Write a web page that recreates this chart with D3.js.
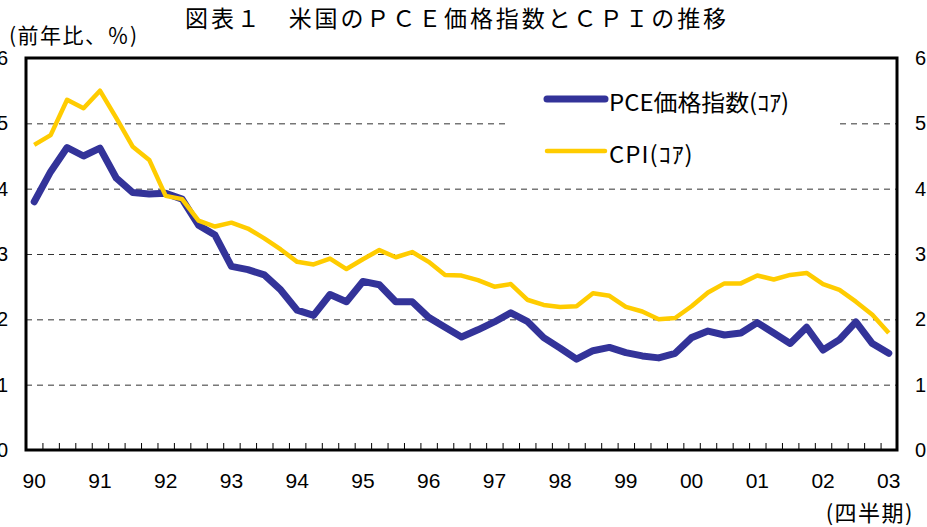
<!DOCTYPE html>
<html>
<head>
<meta charset="utf-8">
<script src="https://cdn.jsdelivr.net/npm/d3@7"></script>
<style>
  body { margin: 0; background: #fff; }
  svg { display: block; }
</style>
</head>
<body>
<svg id="chart" width="927" height="527"></svg>
<script>
// quarterly, 1990Q1 - 2003Q1
const years = ['90', '91', '92', '93', '94', '95', '96', '97', '98', '99', '00', '01', '02', '03']
const quarters = years.flatMap(y => ['Q1', 'Q2', 'Q3', 'Q4'].map(q => y + q)).slice(0, 53)

// 前年比 %
const pceCore = [
  3.80, 4.26, 4.63, 4.50, 4.62, 4.16, 3.94, 3.92,
  3.93, 3.84, 3.44, 3.29, 2.81, 2.76, 2.68, 2.45,
  2.14, 2.06, 2.38, 2.27, 2.58, 2.53, 2.27, 2.27,
  2.03, 1.88, 1.73, 1.84, 1.96, 2.10, 1.97, 1.72,
  1.56, 1.39, 1.52, 1.57, 1.49, 1.44, 1.41, 1.48,
  1.72, 1.82, 1.76, 1.79, 1.95, 1.79, 1.63, 1.88,
  1.53, 1.69, 1.96, 1.63, 1.48
]
const cpiCore = [
  4.67, 4.82, 5.36, 5.23, 5.50, 5.08, 4.64, 4.44,
  3.89, 3.84, 3.51, 3.42, 3.48, 3.39, 3.24, 3.07,
  2.88, 2.84, 2.93, 2.77, 2.92, 3.06, 2.95, 3.03,
  2.88, 2.68, 2.67, 2.60, 2.50, 2.54, 2.30, 2.22,
  2.19, 2.20, 2.40, 2.36, 2.19, 2.12, 2.00, 2.02,
  2.20, 2.41, 2.55, 2.55, 2.67, 2.61, 2.68, 2.71,
  2.54, 2.45, 2.27, 2.07, 1.79
]
const yTicks = [0, 1, 2, 3, 4, 5, 6]
const gridTicks = [1, 2, 3, 4, 5]
const seriesNames = ['PCE価格指数(ｺｱ)', 'CPI(ｺｱ)']
const seriesColors = ['#333399', '#ffcc00']

const title = '図表１　米国のＰＣＥ価格指数とＣＰＩの推移'
const unitLabel = '(前年比、％)'
const periodLabel = '(四半期)'

const margin = { left: 26, right: 30, top: 58, bottom: 77 }
const W = 927
const H = 527
const svg = d3.select('#chart')

const x = d3.scaleBand().domain(quarters).range([margin.left, W - margin.right])
const xIdx = d3.scaleLinear().domain([0, quarters.length]).range([margin.left, W - margin.right])
const y = d3.scaleLinear().domain([0, 6]).range([H - margin.bottom, margin.top])
const cx = q => x(q) + x.bandwidth() / 2

const numFont = '"Liberation Sans", Arial, sans-serif'
const jpFont = '"Noto Sans CJK JP", sans-serif'

// dashed grid
svg.append('g')
  .attr('transform', `translate(${margin.left},0)`)
  .call(d3.axisLeft(y).tickValues(gridTicks).tickSize(-(W - margin.left - margin.right)).tickFormat(''))
  .call(g => g.select('.domain').remove())
  .call(g => g.selectAll('.tick line')
    .attr('stroke', '#333')
    .attr('stroke-width', 1)
    .attr('stroke-dasharray', '6,5'))

// legend background hides a piece of the 5% grid line
svg.append('rect')
  .attr('x', 505).attr('y', 80).attr('width', 335).attr('height', 95)
  .attr('fill', '#fff')

// y labels both sides
const yLabels = (axis, tx) => svg.append('g')
  .attr('transform', `translate(${tx},0)`)
  .call(axis(y).tickValues(yTicks).tickSize(0).tickPadding(18).tickFormat(d3.format('d')))
  .call(g => g.select('.domain').remove())
  .call(g => g.selectAll('text').style('font', `20px ${numFont}`).attr('fill', '#000'))
yLabels(d3.axisLeft, margin.left)
yLabels(d3.axisRight, W - margin.right)

// quarter ticks, pointing inward
svg.append('g')
  .attr('transform', `translate(0,${H - margin.bottom})`)
  .call(d3.axisBottom(xIdx).tickValues(d3.range(1, quarters.length)).tickSize(-7).tickFormat(''))
  .call(g => g.select('.domain').remove())
  .call(g => g.selectAll('.tick line').attr('stroke', '#000').attr('stroke-width', 1))

// year labels
svg.append('g')
  .attr('transform', `translate(0,${H - margin.bottom})`)
  .call(d3.axisBottom(x).tickValues(quarters.filter(q => q.endsWith('Q1'))).tickSize(0).tickPadding(23)
    .tickFormat(q => q.slice(0, 2)))
  .call(g => g.select('.domain').remove())
  .call(g => g.selectAll('text').style('font', `21px ${numFont}`).attr('fill', '#000'))

// frame
svg.append('rect')
  .attr('x', margin.left).attr('y', margin.top)
  .attr('width', W - margin.left - margin.right)
  .attr('height', H - margin.top - margin.bottom)
  .attr('fill', 'none').attr('stroke', '#000').attr('stroke-width', 3)

// lines (CPI drawn over PCE)
const line = d3.line().x((d, i) => cx(quarters[i])).y(d => y(d))
svg.append('path').datum(pceCore)
  .attr('d', line).attr('fill', 'none')
  .attr('stroke', seriesColors[0]).attr('stroke-width', 7).attr('stroke-linejoin', 'round').attr('stroke-linecap', 'round')
svg.append('path').datum(cpiCore)
  .attr('d', line).attr('fill', 'none')
  .attr('stroke', seriesColors[1]).attr('stroke-width', 4.5).attr('stroke-linejoin', 'round')

// legend
const legend = svg.append('g').attr('class', 'legend')
seriesNames.forEach((name, i) => {
  const ly = 99 + i * 52
  legend.append('line')
    .attr('x1', 547).attr('x2', 605).attr('y1', ly).attr('y2', ly)
    .attr('stroke', seriesColors[i]).attr('stroke-width', i === 0 ? 7 : 4.5).attr('stroke-linecap', 'round')
  legend.append('text')
    .attr('transform', `translate(609,${ly + 12}) scale(1.04,1)`)
    .attr('letter-spacing', i === 1 ? 1 : 0)
    .style('font', `23px ${jpFont}`)
    .text(name)
})

// titles
svg.append('text')
  .attr('x', 457).attr('y', 27)
  .attr('text-anchor', 'middle')
  .style('font', `23px ${jpFont}`)
  .attr('letter-spacing', 2.9)
  .text(title)

svg.append('text')
  .attr('x', 9).attr('y', 43)
  .style('font', `21px ${jpFont}`)
  .attr('letter-spacing', 1.5)
  .text(unitLabel)

svg.append('text')
  .attr('x', 914).attr('y', 521)
  .attr('text-anchor', 'end')
  .style('font', `22px ${jpFont}`)
  .attr('letter-spacing', 1.5)
  .text(periodLabel)
</script>
</body>
</html>
